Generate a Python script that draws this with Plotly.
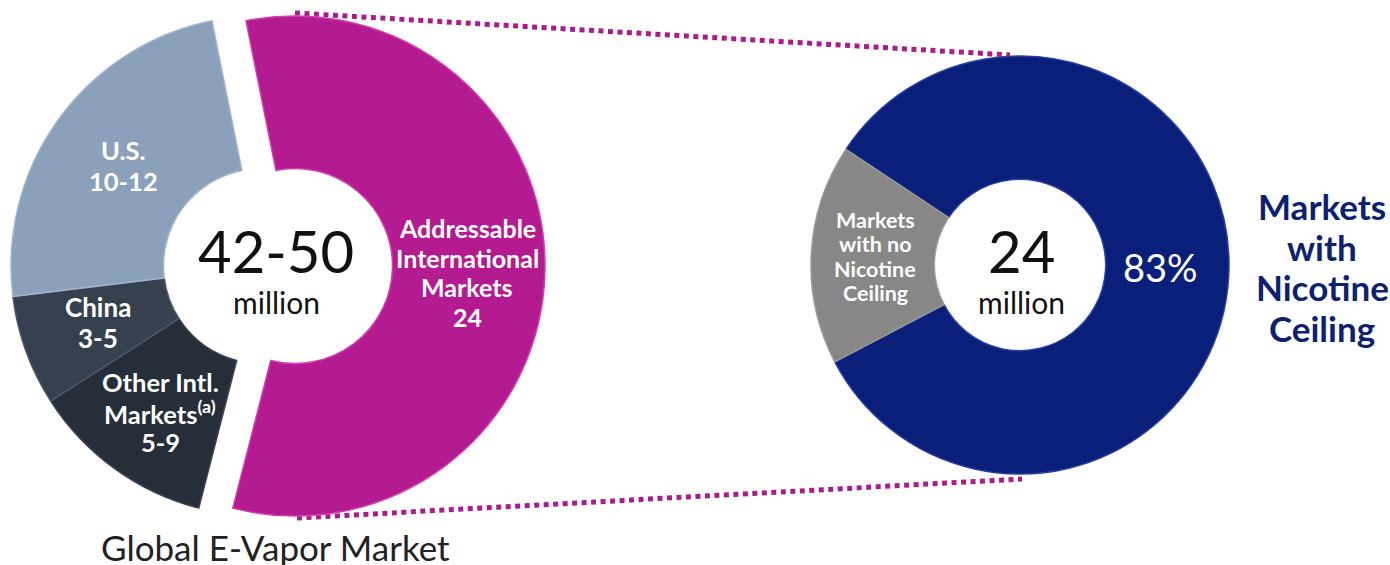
import plotly.graph_objects as go

# ---------------- data ----------------
global_labels = ["Addressable International Markets", "Other Intl. Markets", "China", "U.S."]
global_values = [24, 5, 3, 10]          # lower bounds of ranges drive the slice sizes
global_ranges = ["24", "5-9", "3-5", "10-12"]
global_total = "42-50"

intl_labels = ["Markets with Nicotine Ceiling", "Markets with no Nicotine Ceiling"]
intl_values = [83, 17]
intl_total = "24"

# ---------------- style ----------------
W, H = 1390, 565
PINK = "#B41B91"
OTHER = "#262E3A"
CHINA = "#35414F"
US = "#8BA0BA"
BLUE = "#0A1F79"
GRAY = "#878787"
NAVY = "#0C2170"
FONT = "Lato"
CLEAR = "rgba(0,0,0,0)"


def px(x, y):
    return x / W, 1 - y / H


def dom(cx, cy, r):
    return dict(x=[(cx - r) / W, (cx + r) / W], y=[1 - (cy + r) / H, 1 - (cy - r) / H])


fig = go.Figure()

# left donut (everything but the exploded slice)
fig.add_trace(go.Pie(
    labels=global_labels, values=global_values, sort=False, direction="clockwise",
    rotation=-11.3, hole=0.39, domain=dom(261, 266, 250),
    marker=dict(colors=[CLEAR, OTHER, CHINA, US],
                line=dict(color=[CLEAR, "#3c4656", "#4d5a6b", "#a5b6cb"], width=1.5)),
    textinfo="none", hoverinfo="label+value", showlegend=False))

# exploded slice
fig.add_trace(go.Pie(
    labels=global_labels, values=global_values, sort=False, direction="clockwise",
    rotation=-11.3, hole=0.39, domain=dom(295, 266, 250),
    marker=dict(colors=[PINK, CLEAR, CLEAR, CLEAR],
                line=dict(color=["#d040b0", CLEAR, CLEAR, CLEAR], width=1.5)),
    textinfo="none", hoverinfo="label+value", showlegend=False))

# right donut
fig.add_trace(go.Pie(
    labels=intl_labels, values=intl_values, sort=False, direction="clockwise",
    rotation=-56.4, hole=0.41, domain=dom(1020, 265, 209),
    marker=dict(colors=[BLUE, GRAY], line=dict(color=["#2840a0", "#9a9a9a"], width=1.5)),
    textinfo="none", hoverinfo="label+value", showlegend=False))

# dotted connector lines
for (x0, y0, x1, y1) in [(295, 13, 1010, 55), (297, 518, 1022, 479)]:
    a = px(x0, y0)
    b = px(x1, y1)
    fig.add_shape(type="line", xref="paper", yref="paper", x0=a[0], y0=a[1], x1=b[0], y1=b[1],
                  line=dict(color="#A81C8E", width=5, dash="5px,4.5px"), layer="below")


def ann(x, y, text, size, color="white", bold=False):
    p = px(x, y)
    fig.add_annotation(x=p[0], y=p[1], xref="paper", yref="paper", text=text, showarrow=False,
                       xanchor="center", yanchor="middle", align="center",
                       font=dict(family=FONT, size=size, color=color,
                                 weight="bold" if bold else "normal"))


def block(x, y0, step, lines, size, color="white", bold=True):
    for i, t in enumerate(lines):
        ann(x, y0 + i * step, t, size, color=color, bold=bold)


block(123, 150, 31, ["U.S.", global_ranges[3]], 25.5)
block(98, 307, 31, ["China", global_ranges[2]], 26)
block(160, 382, 30, ["Other Intl.", "Markets<sup>(a)</sup>", global_ranges[1]], 25.5)
block(467, 228, 29.7, ["Addressable", "International", "Markets", global_ranges[0]], 25)
ann(276, 250, global_total, 58, color="#111111")
ann(276, 302, "million", 30, color="#111111")
ann(275, 547, "Global E-Vapor Market", 35, color="#222222")

ann(1021, 250, intl_total, 58, color="#111111")
ann(1021, 302, "million", 30, color="#111111")
ann(1160, 267, f"{intl_values[0]}%", 38)
block(875, 220, 24.4, ["Markets", "with no", "Nicotine", "Ceiling"], 21.5)
block(1322, 206, 40.7, ["Markets", "with", "Nicotine", "Ceiling"], 35, color=NAVY)

fig.update_layout(width=W, height=H, margin=dict(l=0, r=0, t=0, b=0),
                  paper_bgcolor="white", plot_bgcolor="white", showlegend=False)

fig.write_html("out.html", config={"displayModeBar": False})
